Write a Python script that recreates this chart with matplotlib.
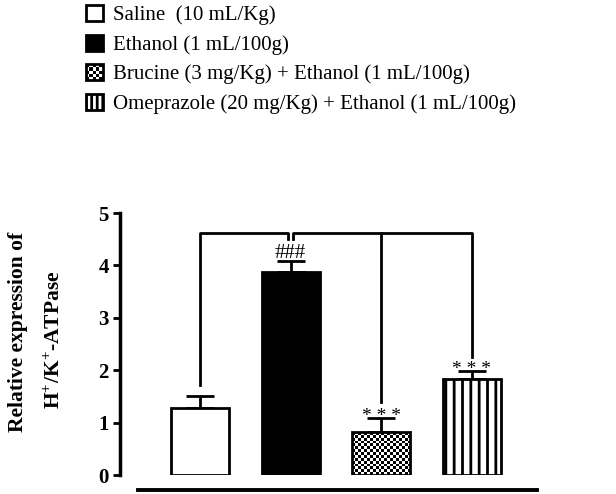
import numpy as np
import matplotlib.pyplot as plt
from matplotlib.patches import Patch, Rectangle
from matplotlib.legend_handler import HandlerBase

plt.rcParams['font.family'] = 'serif'
plt.rcParams['font.serif'] = ['Liberation Serif', 'DejaVu Serif']
plt.rcParams['mathtext.fontset'] = 'custom'
plt.rcParams['mathtext.rm'] = 'Liberation Serif:bold'
plt.rcParams['mathtext.bf'] = 'Liberation Serif:bold'
plt.rcParams['hatch.linewidth'] = 2.0

# data
groups = ['Saline  (10 mL/Kg)',
          'Ethanol (1 mL/100g)',
          'Brucine (3 mg/Kg) + Ethanol (1 mL/100g)',
          'Omeprazole (20 mg/Kg) + Ethanol (1 mL/100g)']
means = [1.28, 3.87, 0.82, 1.83]
errors = [0.22, 0.21, 0.27, 0.15]
marks = ['', '###', '* * *', '* * *']
bracket_y = 4.62
bracket_ends = [1.72, 4.50, 1.39, 2.25]
yticks = [0, 1, 2, 3, 4, 5]


class CheckerHandler(HandlerBase):
    def create_artists(self, legend, orig_handle, xdescent, ydescent,
                       width, height, fontsize, trans):
        out = [Rectangle((-xdescent, -ydescent), width, height, facecolor='white',
                         edgecolor='black', lw=2, transform=trans)]
        n = 5
        cw, ch = width / n, height / n
        for i in range(n):
            for j in range(n):
                if (i + j) % 2 == 0:
                    out.append(Rectangle((-xdescent + i * cw, -ydescent + j * ch), cw, ch,
                                         facecolor='black', lw=0, transform=trans))
        return out


fig = plt.figure(figsize=(6.16, 4.94), dpi=100)
ax = fig.add_axes([120 / 616, 19 / 494, 420 / 616, 262 / 494])

x = np.arange(len(means))
w = 0.64
faces = ['white', 'black', 'none', 'white']
ax.errorbar(x, means, yerr=[np.zeros(len(errors)), errors], fmt='none', ecolor='black',
            elinewidth=2, capsize=10, capthick=2, zorder=1)
bars = ax.bar(x, means, width=w, color=faces, edgecolor='black', linewidth=2, zorder=3)
bars[3].set_hatch('||')

# checkerboard fill for the brucine bar
bar_h_px = means[2] * 262 / 5
bar_w_px = w * 420 / 4.632
cols = 20
rows = max(1, int(round(cols * bar_h_px / bar_w_px)))
checker = (np.add.outer(np.arange(rows), np.arange(cols)) % 2).astype(float)
ax.imshow(checker, cmap='gray', extent=(x[2] - w / 2, x[2] + w / 2, 0, means[2]),
          aspect='auto', interpolation='nearest', zorder=2)
ax.set_xlim(-0.882, 3.75)
ax.set_ylim(0, 5)

# comparison brackets
g = 0.028
ax.plot([0, 0, 1 - g, 1 - g], [bracket_ends[0], bracket_y, bracket_y, bracket_ends[1]],
        color='black', lw=2, clip_on=False)
ax.plot([1 + g, 1 + g, 3, 3], [bracket_ends[1], bracket_y, bracket_y, bracket_ends[3]],
        color='black', lw=2, clip_on=False)
ax.plot([2, 2], [bracket_y, bracket_ends[2]], color='black', lw=2, clip_on=False)

for xi, m, e, s in zip(x, means, errors, marks):
    if s.startswith('#'):
        ax.text(xi, m + e + 0.06, s, ha='center', va='baseline', fontsize=15)
    elif s:
        ax.text(xi, m + e - 0.05, s, ha='center', va='baseline', fontsize=14)

for side in ['top', 'right']:
    ax.spines[side].set_visible(False)
ax.spines['left'].set_linewidth(2.5)
ax.spines['left'].set_bounds(0, 5)
ax.spines['bottom'].set_linewidth(2.8)
ax.spines['bottom'].set_position(('outward', 10.8))
ax.spines['bottom'].set_bounds(-0.684, 3.72)
ax.set_xticks([])
ax.set_yticks(yticks)
ax.set_yticklabels([str(t) for t in yticks], fontweight='bold', fontsize=15)
ax.tick_params(axis='y', length=5, width=2, pad=3)

fig.text(0.029, 1 - 332 / 494, 'Relative expression of', rotation=90, ha='center', va='center',
         fontsize=15.5, fontweight='bold')
fig.text(0.089, 1 - 340 / 494, 'H$^{+}$/K$^{+}$-ATPase', rotation=90, ha='center', va='center',
         fontsize=15.5, fontweight='bold')

handles = [Patch(facecolor='white', edgecolor='black', lw=2),
           Patch(facecolor='black', edgecolor='black', lw=2),
           Patch(facecolor='white', edgecolor='black', lw=2),
           Patch(facecolor='white', edgecolor='black', lw=2, hatch='|||')]
fig.legend(handles, groups, loc='upper left', bbox_to_anchor=(86 / 616, 1 - 5 / 494),
           frameon=False, fontsize=15, handlelength=0.8, handleheight=0.8,
           handletextpad=0.5, labelspacing=0.45, borderpad=0, borderaxespad=0,
           handler_map={handles[2]: CheckerHandler()})

fig.savefig('out.png', dpi=100)
